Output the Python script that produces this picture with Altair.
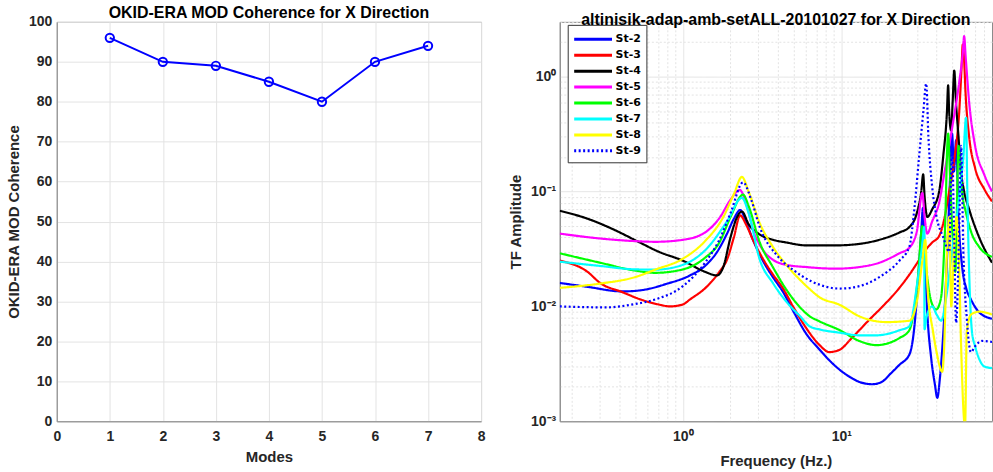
import altair as alt
import pandas as pd

FONT = "Liberation Sans"
LEG_FONT = "DejaVu Sans"

# ---------------- Left panel data ----------------
modes = [1, 2, 3, 4, 5, 6, 7]
coherence = [96, 90, 89, 85, 80, 90, 94]

# ---------------- Right panel data (freq Hz, TF amplitude) ----------------
st2_f = [0.167, 0.25, 0.415, 0.54, 0.8, 1.1, 1.38, 1.65, 1.9, 2.1, 2.3, 2.5, 2.77, 3.2, 3.7, 4.27, 5.0, 6.0,
         7.3, 8.4, 9.8, 11.5, 13.0, 15.7, 18.0, 20.5, 23.3, 26.9, 28.5, 30.2, 32.0, 32.8, 33.6, 34.9, 37.0,
         39.0, 40.4, 42.0, 43.4, 46.0, 48.1, 50.1, 51.5, 53.1, 55.0, 58.0, 61.4, 65.9, 74.2, 89.5]
st2_a = [0.016, 0.0148, 0.0135, 0.0138, 0.0158, 0.0185, 0.0225, 0.030, 0.043, 0.058, 0.069, 0.055, 0.038,
         0.025, 0.018, 0.0135, 0.009, 0.0058, 0.0042, 0.0034, 0.0028, 0.0024, 0.0022, 0.0021, 0.0022,
         0.0026, 0.0031, 0.0038, 0.0055, 0.0132, 0.045, 0.072, 0.03, 0.009, 0.0035, 0.0021, 0.0016,
         0.0024, 0.0042, 0.018, 0.085, 0.32, 0.15, 0.28, 0.06, 0.022, 0.0145, 0.0115, 0.0089, 0.0078]

st3_f = [0.167, 0.25, 0.3, 0.415, 0.54, 0.7, 0.83, 1.0, 1.11, 1.42, 1.7, 1.9, 2.1, 2.3, 2.5, 2.77, 3.2, 3.7,
         4.27, 5.0, 6.0, 7.3, 8.4, 9.8, 11.5, 13.0, 15.1, 18.0, 23.3, 27.0, 31.1, 33.5, 37.5, 41.5, 45.0,
         48.0, 52.0, 55.6, 57.5, 58.5, 59.5, 61.0, 64.2, 70.0, 80.0, 89.5]
st3_a = [0.025, 0.020, 0.016, 0.0133, 0.0115, 0.0104, 0.0100, 0.0104, 0.0115, 0.0149, 0.020, 0.0255, 0.040,
         0.062, 0.052, 0.038, 0.026, 0.019, 0.0145, 0.0098, 0.0065, 0.0046, 0.0040, 0.0042, 0.0052, 0.0062,
         0.0077, 0.0098, 0.0145, 0.019, 0.0255, 0.030, 0.036, 0.041, 0.06, 0.10, 0.2, 0.5, 1.2, 1.9, 1.5,
         0.7, 0.3, 0.16, 0.105, 0.082]

st4_f = [0.167, 0.25, 0.35, 0.524, 0.7, 1.0, 1.38, 1.64, 1.8, 2.0, 2.2, 2.36, 2.6, 3.0, 3.7, 4.5, 6.0, 9.3,
         13.0, 17.4, 23.3, 26.9, 30.0, 32.0, 32.9, 33.6, 34.9, 37.5, 41.5, 44.0, 46.5, 47.3, 48.0, 49.4,
         50.5, 51.7, 53.0, 55.0, 57.0, 59.7, 64.2, 74.2, 89.5]
st4_a = [0.068, 0.058, 0.048, 0.0365, 0.030, 0.025, 0.020, 0.0186, 0.022, 0.040, 0.060, 0.067, 0.052,
         0.043, 0.038, 0.036, 0.034, 0.034, 0.035, 0.038, 0.044, 0.049, 0.065, 0.10, 0.141, 0.09, 0.06,
         0.07, 0.10, 0.2, 0.5, 0.84, 0.5, 0.34, 0.6, 1.13, 0.6, 0.3, 0.15, 0.1, 0.07, 0.04, 0.024]

st5_f = [0.167, 0.3, 0.5, 0.67, 1.0, 1.38, 1.72, 2.0, 2.29, 2.5, 2.8, 3.2, 3.7, 4.5, 6.0, 9.3, 13.0, 17.4,
         23.3, 26.9, 30.0, 32.5, 33.6, 34.9, 37.5, 41.5, 45.0, 50.0, 55.6, 58.5, 59.7, 61.0, 64.2, 70.0,
         80.0, 89.5]
st5_a = [0.043, 0.039, 0.037, 0.0365, 0.038, 0.044, 0.060, 0.085, 0.103, 0.08, 0.045, 0.031, 0.0255, 0.023,
         0.022, 0.0213, 0.022, 0.024, 0.029, 0.0324, 0.045, 0.097, 0.06, 0.043, 0.055, 0.08, 0.15, 0.35,
         0.9, 1.6, 2.25, 1.5, 0.6, 0.25, 0.14, 0.10]

st6_f = [0.167, 0.3, 0.5, 0.67, 1.0, 1.38, 1.7, 2.0, 2.4, 2.6, 3.06, 3.7, 4.5, 5.5, 6.32, 7.3, 9.8, 13.0,
         16.7, 20.0, 23.3, 26.9, 28.5, 30.5, 32.5, 34.0, 37.0, 39.8, 42.7, 45.0, 47.3, 48.5, 50.1, 52.5,
         55.0, 56.5, 58.0, 61.4, 65.9, 74.2, 89.5]
st6_a = [0.029, 0.024, 0.0205, 0.0196, 0.021, 0.0265, 0.036, 0.060, 0.094, 0.075, 0.036, 0.022, 0.014,
         0.0098, 0.0082, 0.0074, 0.0062, 0.0050, 0.0046, 0.0048, 0.0053, 0.0062, 0.0085, 0.018, 0.05, 0.025,
         0.011, 0.0094, 0.012, 0.04, 0.32, 0.15, 0.05, 0.02, 0.25, 0.16, 0.1, 0.065, 0.045, 0.033, 0.027]

st7_f = [0.167, 0.3, 0.5, 0.67, 1.0, 1.42, 1.9, 2.36, 2.6, 3.06, 3.7, 4.5, 5.5, 6.32, 7.3, 9.8, 13.0, 16.7,
         20.0, 23.3, 26.9, 30.2, 32.5, 33.4, 33.55, 34.5, 37.5, 40.0, 42.7, 46.0, 50.0, 55.0, 59.0, 61.4,
         62.5, 64.2, 66.9, 70.0, 74.2, 80.0, 89.5]
st7_a = [0.0245, 0.0225, 0.021, 0.0209, 0.023, 0.032, 0.055, 0.088, 0.065, 0.0255, 0.016, 0.011, 0.0082,
         0.0067, 0.0063, 0.0059, 0.0056, 0.0056, 0.0058, 0.0062, 0.0067, 0.016, 0.035, 0.049, 0.0063, 0.008,
         0.010, 0.0085, 0.0075, 0.012, 0.03, 0.08, 0.2, 0.44, 0.1, 0.02, 0.006, 0.0045, 0.0035, 0.003, 0.0029]

st8_f = [0.167, 0.3, 0.5, 0.67, 1.0, 1.38, 1.8, 2.1, 2.36, 2.6, 3.06, 3.7, 4.5, 5.5, 6.2, 7.3, 9.8, 13.0,
         19.3, 26.9, 30.2, 32.5, 33.9, 35.0, 38.0, 40.0, 43.4, 44.5, 46.5, 48.1, 49.5, 51.7, 53.5, 55.6,
         57.0, 60.5, 62.0, 66.0, 74.2, 89.5]
st8_a = [0.0145, 0.0158, 0.018, 0.0209, 0.026, 0.037, 0.06, 0.095, 0.134, 0.10, 0.053, 0.033, 0.023, 0.017,
         0.0145, 0.012, 0.0103, 0.0082, 0.0073, 0.0075, 0.0115, 0.025, 0.038, 0.015, 0.006, 0.004, 0.0027,
         0.004, 0.03, 0.06, 0.01, 0.035, 0.06, 0.02, 0.005, 0.0009, 0.006, 0.0085, 0.009, 0.0085]

st9_f = [0.167, 0.325, 0.5, 0.67, 1.0, 1.38, 1.7, 2.0, 2.4, 2.7, 3.06, 4.0, 4.94, 6.5, 9.8, 13.0, 17.4, 23.3,
         26.9, 28.9, 31.0, 33.0, 34.4, 35.5, 37.5, 40.0, 44.0, 48.1, 50.0, 51.5, 53.1, 55.6, 57.1, 59.0,
         62.0, 65.9, 70.0, 77.4, 89.5]
st9_a = [0.010, 0.0098, 0.0105, 0.0115, 0.015, 0.024, 0.038, 0.065, 0.12, 0.085, 0.049, 0.027, 0.0209,
         0.0165, 0.0143, 0.015, 0.018, 0.025, 0.033, 0.069, 0.2, 0.5, 0.87, 0.3, 0.11, 0.06, 0.04, 0.03,
         0.25, 0.05, 0.0072, 0.05, 0.25, 0.03, 0.008, 0.004, 0.0045, 0.005, 0.0049]

series_names = ["St-2", "St-3", "St-4", "St-5", "St-6", "St-7", "St-8", "St-9"]
series_colors = ["#0000ff", "#ff0000", "#000000", "#ff00ff", "#00ff00", "#00ffff", "#ffff00", "#0000ff"]
series_dash = [[1, 0], [1, 0], [1, 0], [1, 0], [1, 0], [1, 0], [1, 0], [2, 2.5]]
freqs = [st2_f, st3_f, st4_f, st5_f, st6_f, st7_f, st8_f, st9_f]
amps = [st2_a, st3_a, st4_a, st5_a, st6_a, st7_a, st8_a, st9_a]

rows = []
for i, (name, fs, as_) in enumerate(zip(series_names, freqs, amps)):
    for f, a in zip(fs, as_):
        rows.append({"series": name, "freq": f, "amp": a, "k": i})
tf = pd.DataFrame(rows)

left_df = pd.DataFrame({"mode": modes, "coh": coherence})

LABEL_COLOR = "#262626"
GRID = "#e3e3e3"
BOX = "#8a8a8a"

# ---------------- Left panel ----------------
lx = alt.X("mode:Q", title="Modes",
           scale=alt.Scale(domain=[0, 8], nice=False),
           axis=alt.Axis(values=list(range(0, 9)), grid=True, gridColor=GRID, ticks=False,
                         labelPadding=8, titlePadding=6, domainColor=BOX, labelFlush=False))
ly = alt.Y("coh:Q", title="OKID-ERA MOD Coherence",
           scale=alt.Scale(domain=[0, 100], nice=False),
           axis=alt.Axis(values=list(range(0, 101, 10)), grid=True, gridColor=GRID, ticks=False,
                         labelPadding=5, titlePadding=7, domainColor=BOX, labelFlush=False))
left_line = alt.Chart(left_df).mark_line(color="#0000ff", strokeWidth=2).encode(x=lx, y=ly)
left_pts = alt.Chart(left_df).mark_point(shape="circle", filled=False, color="#0000ff",
                                         size=70, strokeWidth=2, opacity=1).encode(x=lx, y=ly)
left = alt.layer(left_line, left_pts).properties(
    width=426, height=401,
    title=alt.TitleParams("OKID-ERA MOD Coherence for X Direction", offset=-6))

# ---------------- Right panel ----------------
x_vals = [0.2, 0.3, 0.4, 0.5, 0.6, 0.7, 0.8, 0.9,
          1, 2, 3, 4, 5, 6, 7, 8, 9,
          10, 20, 30, 40, 50, 60, 70, 80]
y_vals = [0.001, 0.002, 0.003, 0.004, 0.005, 0.006, 0.007, 0.008, 0.009,
          0.01, 0.02, 0.03, 0.04, 0.05, 0.06, 0.07, 0.08, 0.09,
          0.1, 0.2, 0.3, 0.4, 0.5, 0.6, 0.7, 0.8, 0.9,
          1, 2, 3]
major_test = "abs(log(datum.value)/LN10 - round(log(datum.value)/LN10)) < 1e-6"

rx = alt.X("freq:Q", title="Frequency (Hz.)",
           scale=alt.Scale(type="log", domain=[0.167, 89.5], nice=False),
           axis=alt.Axis(values=x_vals, grid=True, gridColor=GRID, ticks=False,
                         gridDash={"condition": {"test": major_test, "value": [1, 0]}, "value": [2, 2]},
                         labelExpr="datum.value == 1 ? '10⁰' : datum.value == 10 ? '10¹' : ''",
                         labelPadding=8, titlePadding=10, domainColor=BOX, labelFlush=False))
ry = alt.Y("amp:Q", title="TF Amplitude",
           scale=alt.Scale(type="log", domain=[0.001, 3], nice=False),
           axis=alt.Axis(values=y_vals, grid=True, gridColor=GRID, ticks=False,
                         gridDash={"condition": {"test": major_test, "value": [1, 0]}, "value": [2, 2]},
                         labelExpr="datum.value == 0.001 ? '10⁻³' : datum.value == 0.01 ? '10⁻²' : "
                                   "datum.value == 0.1 ? '10⁻¹' : datum.value == 1 ? '10⁰' : ''",
                         labelPadding=4, titlePadding=7, domainColor=BOX, labelFlush=False))

legend_kw = dict(title=None, orient="none", legendX=8, legendY=3,
                 symbolType="M-1,0L3.75,0", symbolSize=256, symbolStrokeWidth=3,
                 labelFontSize=11, labelFont=LEG_FONT, labelFontWeight="bold",
                 labelColor="#000000", labelOffset=24, rowPadding=0,
                 strokeColor="#333333", fillColor="#ffffff", padding=5, cornerRadius=0)

right = alt.Chart(tf).mark_line(strokeWidth=2.2, clip=True, interpolate="monotone").encode(
    x=rx, y=ry,
    color=alt.Color("series:N", sort=series_names,
                    scale=alt.Scale(domain=series_names, range=series_colors),
                    legend=alt.Legend(**legend_kw)),
    strokeDash=alt.StrokeDash("series:N", sort=series_names,
                              scale=alt.Scale(domain=series_names, range=series_dash),
                              legend=alt.Legend(**legend_kw)),
    order=alt.Order("k:Q"),
    detail="series:N",
).properties(
    width=434, height=401,
    title=alt.TitleParams("altinisik-adap-amb-setALL-20101027 for X Direction", offset=-6))

chart = alt.hconcat(left, right, spacing=22).resolve_scale(
    color="independent", strokeDash="independent"
).properties(
    padding={"left": 6, "top": 3, "right": 0, "bottom": 0},
    background="#ffffff"
).configure_view(
    stroke=BOX, strokeWidth=1
).configure_axis(
    labelFont=FONT, labelFontSize=14, labelFontWeight="bold", labelColor=LABEL_COLOR,
    titleFont=FONT, titleFontSize=15, titleFontWeight="bold", titleColor=LABEL_COLOR,
).configure_title(
    font=FONT, fontSize=16, fontWeight="bold", color="#000000", anchor="middle"
)

chart.save("out.html", embed_options={"renderer": "svg", "actions": False})
